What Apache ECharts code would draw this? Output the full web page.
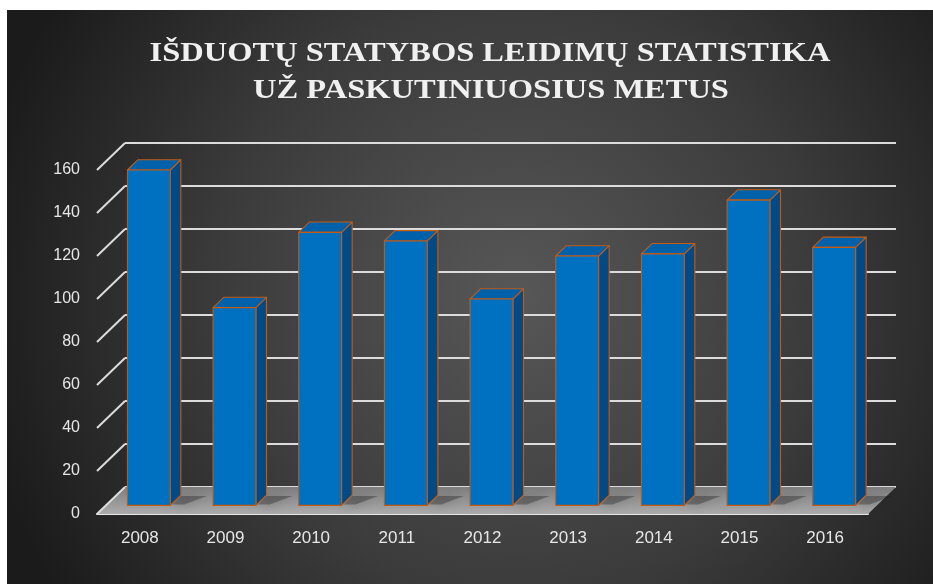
<!DOCTYPE html>
<html>
<head>
<meta charset="utf-8">
<script src="https://cdn.jsdelivr.net/npm/echarts@6/dist/echarts.min.js"></script>
<style>
    html, body { margin: 0; padding: 0; background: #fff; }
    #chart { width: 933px; height: 584px; }
</style>
</head>
<body>
<div id="chart"></div>
<script>
const titleLines = ['IŠDUOTŲ STATYBOS LEIDIMŲ STATISTIKA', 'UŽ PASKUTINIUOSIUS METUS']
const years = ['2008', '2009', '2010', '2011', '2012', '2013', '2014', '2015', '2016']
const permits = [156, 92, 127, 123, 96, 116, 117, 142, 120]
const yTicks = [0, 20, 40, 60, 80, 100, 120, 140, 160]

// oblique depth of the floor, and where the bar sits inside it (px)
const depth = [28, -27]
const barFront = [9, -8.6]
const barBack = [19.6, -18.9]

const chart = echarts.init(document.getElementById('chart'))

function renderBar (params, api) {
    const top = api.coord([api.value(0), api.value(1)])
    const base = api.coord([api.value(0), 0])
    const w = api.size([1, 0])[0] * 0.5
    const x0 = top[0] - w / 2 + barFront[0]
    const x1 = top[0] + w / 2 + barFront[0]
    const yt = top[1] + barFront[1]
    const yb = base[1] + barFront[1]
    const dx = barBack[0] - barFront[0]
    const dy = barBack[1] - barFront[1]
    const edge = { stroke: '#c55a11', lineWidth: 1.1, lineJoin: 'round' }
    return {
        type: 'group',
        children: [
            {
                // soft shadow on the floor
                type: 'polygon',
                shape: { points: [[x1 + 2, yb - 1], [x1 + dx, yb + dy + 1], [x1 + dx + 26, yb + dy + 1], [x1 + 14, yb - 1]] },
                style: { fill: 'rgba(30,30,30,0.35)', shadowBlur: 12, shadowColor: 'rgba(0,0,0,0.6)' }
            },
            {
                type: 'polygon',
                shape: { points: [[x1, yt], [x1 + dx, yt + dy], [x1 + dx, yb + dy], [x1, yb]] },
                style: Object.assign({ fill: '#004b87' }, edge)
            },
            {
                type: 'polygon',
                shape: { points: [[x0, yt], [x0 + dx, yt + dy], [x1 + dx, yt + dy], [x1, yt]] },
                style: Object.assign({ fill: '#0061ab' }, edge)
            },
            {
                type: 'rect',
                shape: { x: x0, y: yt, width: x1 - x0, height: yb - yt },
                style: Object.assign({ fill: '#0070c0' }, edge)
            }
        ]
    }
}

function renderFloor (params, api) {
    const cs = params.coordSys
    const yb = cs.y + cs.height
    return {
        type: 'polygon',
        shape: {
            points: [
                [cs.x, yb],
                [cs.x + cs.width, yb],
                [cs.x + cs.width + depth[0], yb + depth[1]],
                [cs.x + depth[0], yb + depth[1]]
            ]
        },
        style: {
            fill: new echarts.graphic.LinearGradient(0, 0, 0, 1, [
                { offset: 0, color: '#7e7e7e' },
                { offset: 1, color: '#ababab' }
            ])
        }
    }
}

function renderTick (params, api) {
    const p = api.coord([0, api.value(0)])
    const x = params.coordSys.x
    return {
        type: 'line',
        shape: { x1: x, y1: p[1], x2: x + depth[0], y2: p[1] + depth[1] },
        style: { stroke: '#dcdcdc', lineWidth: 2 }
    }
}

const labelFont = { color: '#e6e6e6', fontSize: 16, fontFamily: 'Liberation Sans' }

const titleStyle = {
    fontFamily: 'Liberation Serif',
    fontWeight: 'bold',
    fontSize: 28,
    fill: '#f0f0f0',
    textAlign: 'center',
    textVerticalAlign: 'middle',
    shadowColor: 'rgba(0,0,0,0.8)',
    shadowBlur: 4,
    shadowOffsetX: 2,
    shadowOffsetY: 2
}

const option = {
    backgroundColor: '#fff',
    animation: false,
    graphic: [
        {
            type: 'rect',
            z: -10,
            shape: { x: 7, y: 10, width: 926, height: 574 },
            style: {
                fill: new echarts.graphic.RadialGradient(0.55, 0.5, 0.95, [
                    { offset: 0, color: '#575757' },
                    { offset: 0.55, color: '#3b3b3b' },
                    { offset: 1, color: '#1b1b1b' }
                ])
            }
        },
        {
            type: 'text',
            x: 490,
            y: 54,
            scaleX: 1.16,
            style: Object.assign({ text: titleLines[0] }, titleStyle)
        },
        {
            type: 'text',
            x: 491,
            y: 91,
            scaleX: 1.16,
            style: Object.assign({ text: titleLines[1] }, titleStyle)
        }
    ],
    grid: [
        // back wall
        { left: 125, right: 37, top: 143, bottom: 97 },
        // front plane
        { left: 97, right: 65, top: 170, bottom: 70 }
    ],
    xAxis: [
        { gridIndex: 0, type: 'category', data: years, show: false },
        {
            gridIndex: 1,
            type: 'category',
            data: years,
            axisLine: { lineStyle: { color: '#e8e8e8', width: 2 } },
            axisTick: { show: false },
            axisLabel: Object.assign({}, labelFont, { margin: 16, fontSize: 17 })
        }
    ],
    yAxis: [
        {
            gridIndex: 0,
            min: 0,
            max: 160,
            interval: 20,
            axisLine: { show: false },
            axisTick: { show: false },
            axisLabel: { show: false },
            splitLine: { lineStyle: { color: '#dcdcdc', width: 2 } }
        },
        {
            gridIndex: 1,
            min: 0,
            max: 160,
            interval: 20,
            axisLine: { show: false },
            axisTick: { show: false },
            splitLine: { show: false },
            axisLabel: Object.assign({ margin: 17 }, labelFont)
        }
    ],
    series: [
        {
            name: 'floor',
            type: 'custom',
            xAxisIndex: 1,
            yAxisIndex: 1,
            z: 1,
            data: [[0, 0]],
            renderItem: renderFloor
        },
        {
            name: 'ticks',
            type: 'custom',
            xAxisIndex: 1,
            yAxisIndex: 1,
            z: 2,
            data: yTicks.map(v => [v]),
            encode: { y: 0 },
            renderItem: renderTick
        },
        {
            name: 'permits',
            type: 'custom',
            xAxisIndex: 1,
            yAxisIndex: 1,
            z: 3,
            data: permits.map((v, i) => [i, v]),
            renderItem: renderBar
        }
    ]
}
chart.setOption(option)
</script>
</body>
</html>
